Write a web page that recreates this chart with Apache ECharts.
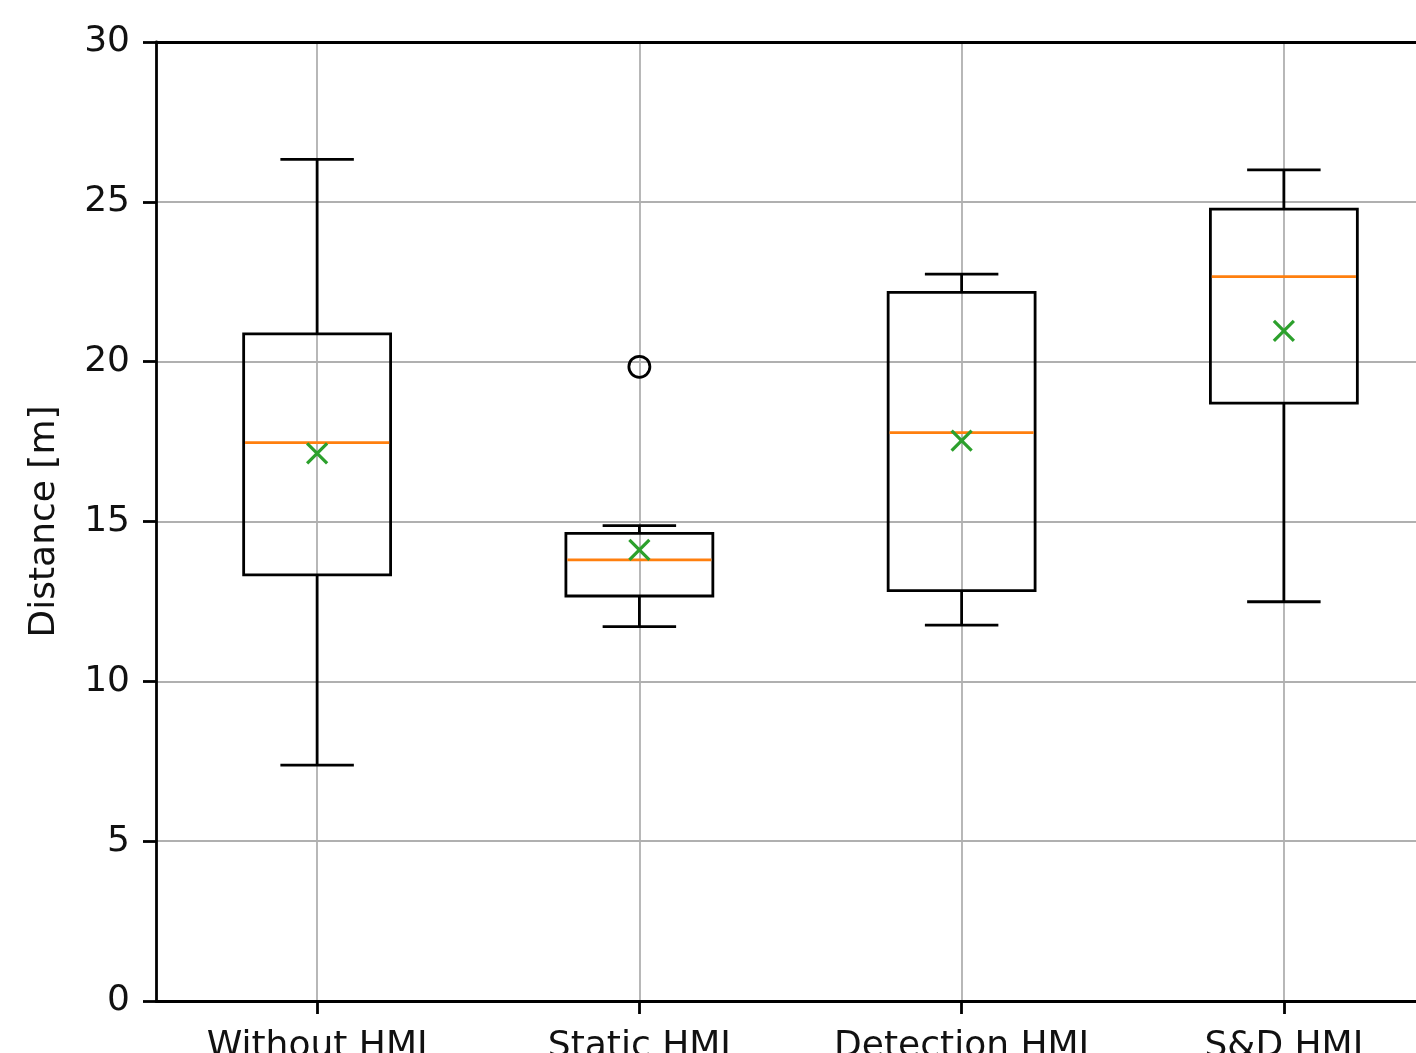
<!DOCTYPE html>
<html>
<head>
<meta charset="utf-8">
<script src="https://cdn.jsdelivr.net/npm/echarts@6/dist/echarts.min.js"></script>
<style>
html,body{margin:0;padding:0;background:#fff;}
#chart{width:1416px;height:1053px;}
</style>
</head>
<body>
<div id="chart"></div>
<script>
const categories = ['Without HMI', 'Static HMI', 'Detection HMI', 'S&D HMI'];
const lowerWhisker = [7.38, 11.71, 11.76, 12.49];
const q1 = [13.33, 12.67, 12.84, 18.70];
const median = [17.47, 13.80, 17.78, 22.66];
const q3 = [20.87, 14.63, 22.17, 24.77];
const upperWhisker = [26.33, 14.87, 22.74, 26.00];
const means = [17.13, 14.11, 17.53, 20.96];
const outliers = [['Static HMI', 19.84]];
const yTicks = [0, 5, 10, 15, 20, 25, 30];

const boxData = categories.map((c, i) => [i, lowerWhisker[i], q1[i], median[i], q3[i], upperWhisker[i]]);
const meanData = categories.map((c, i) => [c, means[i]]);

const FONT = 'DejaVu Sans';
const TXT = '#111';
const LW = 2.8;

const chart = echarts.init(document.getElementById('chart'));

function renderBox(params, api) {
  const i = api.value(0);
  const band = api.size([1, 0])[0];
  const bw = band * 0.456;
  const cw = bw * 0.5;
  const pLow = api.coord([i, api.value(1)]);
  const pQ1 = api.coord([i, api.value(2)]);
  const pMed = api.coord([i, api.value(3)]);
  const pQ3 = api.coord([i, api.value(4)]);
  const pHigh = api.coord([i, api.value(5)]);
  const x = pQ1[0];
  const lineStyle = { stroke: '#000', lineWidth: LW, fill: null };
  return {
    type: 'group',
    children: [
      { type: 'line', shape: { x1: x, y1: pLow[1], x2: x, y2: pQ1[1] }, style: lineStyle },
      { type: 'line', shape: { x1: x, y1: pQ3[1], x2: x, y2: pHigh[1] }, style: lineStyle },
      { type: 'line', shape: { x1: x - cw / 2, y1: pLow[1], x2: x + cw / 2, y2: pLow[1] }, style: lineStyle },
      { type: 'line', shape: { x1: x - cw / 2, y1: pHigh[1], x2: x + cw / 2, y2: pHigh[1] }, style: lineStyle },
      { type: 'rect', shape: { x: x - bw / 2, y: pQ3[1], width: bw, height: pQ1[1] - pQ3[1] }, style: { stroke: '#000', lineWidth: LW, fill: 'rgba(0,0,0,0)' } },
      { type: 'line', shape: { x1: x - bw / 2 + 1.4, y1: pMed[1], x2: x + bw / 2 - 1.4, y2: pMed[1] }, style: { stroke: '#ff7f0e', lineWidth: LW } }
    ]
  };
}

const option = {
  backgroundColor: '#fff',
  animation: false,
  grid: {
    left: 156, top: 42, width: 1289, height: 959,
    outerBoundsMode: 'none',
    containLabel: false
  },
  xAxis: [
    {
      type: 'category',
      data: categories,
      boundaryGap: true,
      axisLine: { show: true, lineStyle: { color: '#000', width: LW } },
      axisTick: { show: true, alignWithLabel: true, length: 13, lineStyle: { color: '#000', width: LW } },
      axisLabel: { fontFamily: FONT, fontSize: 36, color: TXT, margin: 28, interval: 0 },
      splitLine: { show: true, alignWithLabel: true, lineStyle: { color: '#b0b0b0', width: 1.8 } },
      z: 2
    },
    {
      type: 'category',
      data: categories,
      position: 'top',
      boundaryGap: true,
      axisLine: { show: true, onZero: false, lineStyle: { color: '#000', width: LW } },
      axisTick: { show: false },
      axisLabel: { show: false },
      splitLine: { show: false },
      z: 4
    }
  ],
  yAxis: {
    type: 'value',
    min: 0, max: 30, interval: 5,
    name: 'Distance [m]',
    nameLocation: 'middle',
    nameGap: 93,
    nameTextStyle: { fontFamily: FONT, fontSize: 36, color: TXT },
    axisLine: { show: true, lineStyle: { color: '#000', width: LW } },
    axisTick: { show: true, inside: false, length: 13, lineStyle: { color: '#000', width: LW } },
    axisLabel: {
      fontFamily: FONT, fontSize: 36, color: TXT, margin: 26,
      formatter: v => yTicks.includes(v) ? String(v) : ''
    },
    splitLine: { show: true, lineStyle: { color: '#b0b0b0', width: 1.8 } }
  },
  series: [
    {
      type: 'custom',
      name: 'box',
      renderItem: renderBox,
      data: boxData,
      encode: { x: 0, y: [1, 2, 3, 4, 5] },
      z: 3
    },
    {
      type: 'scatter',
      name: 'mean',
      data: meanData,
      symbol: 'path://M0,0L10,10M10,0L0,10',
      symbolSize: 20,
      itemStyle: { color: 'rgba(0,0,0,0)', borderColor: '#2ca02c', borderWidth: 3.2, opacity: 1 },
      z: 5
    },
    {
      type: 'scatter',
      name: 'outlier',
      data: outliers,
      symbol: 'circle',
      symbolSize: 21,
      itemStyle: { color: 'rgba(0,0,0,0)', borderColor: '#000', borderWidth: LW, opacity: 1 },
      z: 5
    }
  ]
};
chart.setOption(option);
</script>
</body>
</html>
